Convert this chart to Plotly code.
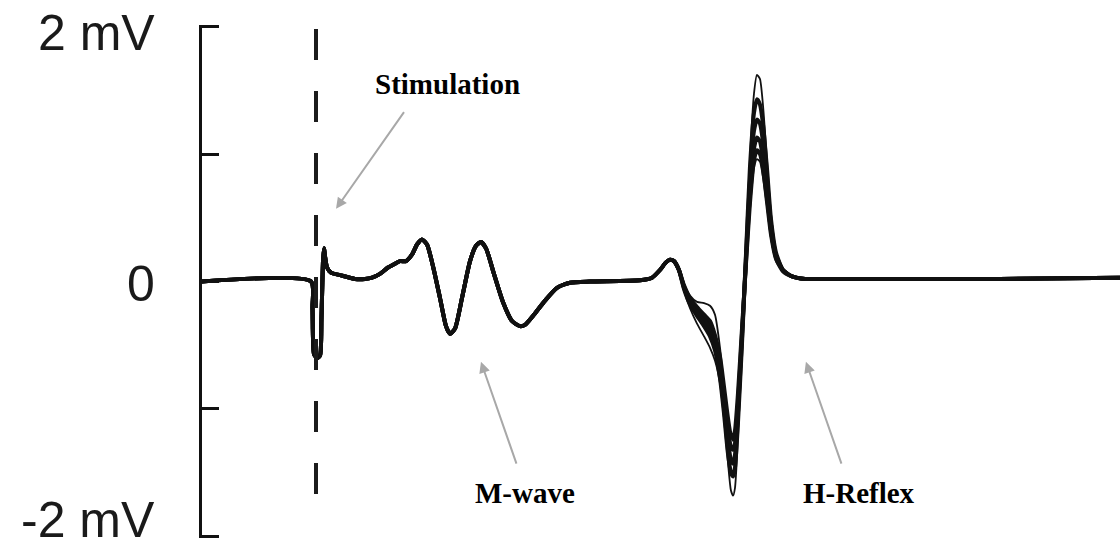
import plotly.graph_objects as go

# Shared part of every sweep: baseline, stimulus artefact and M-wave (ms, mV)
t_early = [-8.8, -0.38, -0.27, -0.15, 0.08, 0.31, 0.42, 0.54, 0.62, 0.69, 0.85, 1.15,
           1.85, 3.0, 3.77, 4.31, 4.92, 5.54, 6.08, 6.46, 6.92, 7.38, 7.77, 8.15, 8.54,
           9.0, 9.54, 10.0, 10.31, 10.69, 11.23, 11.85, 12.31, 12.69, 13.08, 13.69,
           14.38, 15.08, 15.69, 16.08, 16.69, 17.62, 18.54, 19.54, 21.08, 24.92, 25.85,
           26.46, 26.92, 27.23, 27.54, 27.92]
v_early = [0.0, 0.0, -0.21, -0.57, -0.60, -0.58, -0.29, 0.16, 0.26, 0.20, 0.11, 0.07,
           0.05, 0.02, 0.02, 0.03, 0.06, 0.11, 0.14, 0.16, 0.16, 0.21, 0.29, 0.33, 0.29,
           0.12, -0.13, -0.35, -0.41, -0.37, -0.13, 0.16, 0.28, 0.31, 0.26, 0.06,
           -0.16, -0.31, -0.35, -0.34, -0.27, -0.15, -0.05, -0.01, 0.0, 0.01, 0.03,
           0.09, 0.15, 0.17, 0.16, 0.09]

# H-reflex window, sampled at the same times for every sweep
t_h = [28.31, 28.77, 29.31, 29.85, 30.31, 30.69, 31.08, 31.38, 31.69, 31.92, 32.08,
       32.23, 32.46, 32.77, 33.08, 33.38, 33.69, 33.92, 34.15, 34.38, 34.69, 35.0,
       35.38, 35.92, 36.62, 37.62]
sweep_1 = [-0.07, -0.21, -0.33, -0.43, -0.52, -0.62, -0.80, -1.07, -1.42, -1.64, -1.68,
           -1.62, -1.23, -0.52, 0.26, 0.96, 1.47, 1.62, 1.59, 1.39, 0.96, 0.53, 0.24,
           0.10, 0.04, 0.02]
sweep_2 = [-0.06, -0.18, -0.27, -0.35, -0.43, -0.54, -0.76, -1.03, -1.35, -1.50, -1.53,
           -1.46, -1.11, -0.49, 0.22, 0.89, 1.32, 1.43, 1.39, 1.24, 0.89, 0.49, 0.23,
           0.09, 0.04, 0.02]
sweep_3 = [-0.05, -0.16, -0.25, -0.32, -0.39, -0.50, -0.70, -0.96, -1.25, -1.40, -1.43,
           -1.36, -1.03, -0.45, 0.20, 0.79, 1.18, 1.27, 1.24, 1.10, 0.79, 0.45, 0.21,
           0.09, 0.04, 0.02]
sweep_4 = [-0.04, -0.15, -0.23, -0.29, -0.35, -0.46, -0.64, -0.89, -1.15, -1.30, -1.32,
           -1.27, -0.96, -0.41, 0.16, 0.69, 1.04, 1.13, 1.10, 0.96, 0.69, 0.40, 0.20,
           0.09, 0.04, 0.02]
sweep_5 = [-0.03, -0.13, -0.20, -0.26, -0.31, -0.42, -0.59, -0.82, -1.07, -1.21, -1.23,
           -1.17, -0.88, -0.37, 0.14, 0.61, 0.95, 1.03, 1.00, 0.89, 0.63, 0.37, 0.18,
           0.08, 0.04, 0.02]
sweep_6 = [-0.02, -0.11, -0.16, -0.17, -0.19, -0.26, -0.52, -0.82, -1.07, -1.21, -1.25,
           -1.21, -0.92, -0.39, 0.12, 0.56, 0.89, 0.96, 0.94, 0.82, 0.59, 0.34, 0.16,
           0.08, 0.04, 0.02]

# Flat tail after the reflex
t_tail = [38.77, 44.92, 52.62, 61.85]
v_tail = [0.02, 0.02, 0.02, 0.03]

sweeps = [sweep_1, sweep_2, sweep_3, sweep_4, sweep_5, sweep_6]
widths = [1.8, 4, 4, 4, 4, 1.8]

X_RANGE = [-8.77, 61.85]
Y_RANGE = [-2.012, 2.012]
INK = "#111111"
ARROW = "#a8a8a8"

fig = go.Figure()
for sweep, w in zip(sweeps, widths):
    fig.add_trace(go.Scatter(
        x=t_early + t_h + t_tail,
        y=v_early + sweep + v_tail,
        mode="lines",
        line=dict(color=INK, width=w, shape="spline", smoothing=0.6),
        hoverinfo="skip",
        showlegend=False,
    ))

# Stimulus marker
fig.add_shape(type="line", xref="x", yref="y", x0=0, x1=0, y0=1.98, y1=-1.81,
              line=dict(color="#1c1c1c", width=4, dash="31px,31px"))

annotations = []
# Scale labels on the voltage bar
for label, yv in [("2 mV", 1.95), ("0", -0.02), ("-2 mV", -1.87)]:
    annotations.append(dict(
        text=label, xref="paper", yref="y", x=-0.049, y=yv,
        xanchor="right", yanchor="middle", showarrow=False,
        font=dict(family="Liberation Sans, Arial", size=50, color="#1a1a1a"),
    ))

# Event labels and their pointers
for label, tx, ty in [("Stimulation", 10.15, 1.55), ("M-wave", 16.08, -1.66),
                      ("H-Reflex", 41.77, -1.66)]:
    annotations.append(dict(
        text=f"<b>{label}</b>", xref="x", yref="y", x=tx, y=ty,
        xanchor="center", yanchor="middle", showarrow=False,
        font=dict(family="Liberation Serif, Times New Roman", size=29, color="#000000"),
    ))

for hx, hy, tx, ty in [(1.54, 0.57, 6.85, 1.34), (12.69, -0.63, 15.46, -1.44),
                       (37.69, -0.63, 40.46, -1.44)]:
    annotations.append(dict(
        text="", x=hx, y=hy, ax=tx, ay=ty, xref="x", yref="y", axref="x", ayref="y",
        showarrow=True, arrowhead=2, arrowsize=1.1, arrowwidth=2, arrowcolor=ARROW,
    ))

fig.update_layout(
    width=1120, height=551,
    margin=dict(l=202, r=0, t=24.5, b=12.5),
    paper_bgcolor="white", plot_bgcolor="white",
    annotations=annotations,
    xaxis=dict(range=X_RANGE, visible=False, fixedrange=True),
    yaxis=dict(range=Y_RANGE, showgrid=False, zeroline=False, showline=True,
               linecolor=INK, linewidth=3, ticks="inside", ticklen=17, tickwidth=3,
               tickcolor=INK, tickvals=[-2, -1, 0, 1, 2], showticklabels=False,
               fixedrange=True),
)

fig.write_html("out.html")
